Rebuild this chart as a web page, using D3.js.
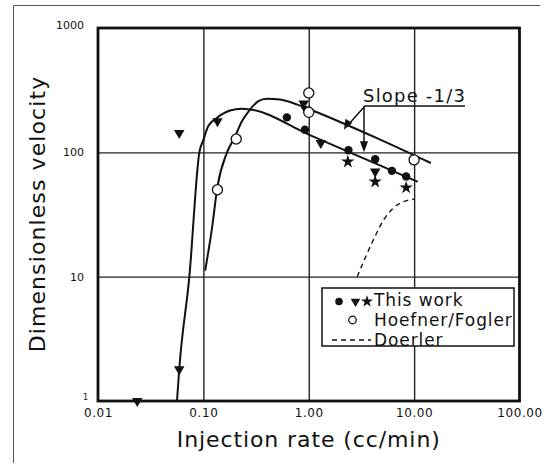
<!DOCTYPE html>
<html lang="en">
<head>
  <meta charset="utf-8">
  <title>Dimensionless velocity vs injection rate</title>
  <script src="https://d3js.org/d3.v7.min.js"></script>
  <style>
    body { margin: 0; background: #fff; }
    svg { display: block; }
    text { font-family: "DejaVu Sans", sans-serif; fill: #111; }
  </style>
</head>
<body>
<div id="chart"></div>
<script>
  // axis ticks
  const xTicks = [0.01, 0.1, 1, 10, 100];
  const xTickLabels = ["0.01", "0.10", "1.00", "10.00", "100.00"];
  const yTicks = [1, 10, 100, 1000];
  const yTickLabels = ["1", "10", "100", "1000"];

  // "This work" markers
  const dotX = [0.62, 0.92, 2.38, 4.27, 6.15, 8.4];
  const dotY = [191, 152, 104, 88, 71, 64];
  const triX = [0.0236, 0.059, 0.059, 0.136, 0.895, 0.935, 1.30, 4.27];
  const triY = [1, 1.8, 143, 178, 247, 222, 119, 70];
  const starX = [2.35, 4.27, 8.4];
  const starY = [84, 58, 52];

  // Hoefner/Fogler markers
  const openX = [0.136, 0.205, 1.0, 1.0, 10];
  const openY = [50, 128, 300, 210, 87];

  // fitted curves
  const curveAX = [0.0562, 0.059, 0.0736, 0.0916, 0.1, 0.111, 0.134, 0.179, 0.23, 0.28, 1.0, 10.8];
  const curveAY = [1, 1.8, 10, 100, 126, 162, 189, 217, 224, 221, 139, 58];
  const curveBX = [0.104, 0.12, 0.136, 0.167, 0.2, 0.232, 0.277, 0.333, 0.4, 0.535, 0.77, 1.03, 4.76, 14.4];
  const curveBY = [11.2, 23.7, 53, 99, 134.6, 178, 221, 258, 270, 266, 243, 221, 126.5, 82];
  const doerlerX = [2.88, 4.1, 5.12, 6.37, 8.5, 10];
  const doerlerY = [10, 19.7, 28.5, 35.7, 40.9, 42];

  const legendLabels = ["This work", "Hoefner/Fogler", "Doerler"];

  const width = 547, height = 467;
  const plotL = 98, plotR = 519.5, plotT = 28, plotB = 401;

  const svg = d3.select("#chart").append("svg")
    .attr("width", width)
    .attr("height", height);

  const x = d3.scaleLog().domain([0.01, 100]).range([plotL, plotR]);
  const y = d3.scaleLog().domain([1, 1000]).range([plotB, plotT]);

  // outer frame of the scanned figure
  svg.append("path")
    .attr("d", "M13.5,463 L13.5,5.5 L540,5.5")
    .attr("fill", "none")
    .attr("stroke", "#555")
    .attr("stroke-width", 1);

  // grid lines
  svg.append("g")
    .attr("transform", `translate(0,${plotB})`)
    .call(d3.axisBottom(x).tickValues(xTicks.slice(1, -1)).tickSize(-(plotB - plotT)).tickFormat(""))
    .call(g => g.select(".domain").remove())
    .call(g => g.selectAll("line").attr("stroke", "#222").attr("stroke-width", 1.4));

  svg.append("g")
    .attr("transform", `translate(${plotL},0)`)
    .call(d3.axisLeft(y).tickValues(yTicks.slice(1, -1)).tickSize(-(plotR - plotL)).tickFormat(""))
    .call(g => g.select(".domain").remove())
    .call(g => g.selectAll("line").attr("stroke", "#222").attr("stroke-width", 1.4));

  // tick labels
  svg.append("g")
    .attr("transform", `translate(0,${plotB})`)
    .call(d3.axisBottom(x).tickValues(xTicks).tickSize(0).tickPadding(7)
      .tickFormat((d, i) => xTickLabels[i]))
    .call(g => g.select(".domain").remove())
    .call(g => g.selectAll("text")
      .attr("font-family", "DejaVu Sans")
      .attr("font-size", 12)
      .style("letter-spacing", "0.6px")
      .attr("fill", "#111"));

  svg.append("g")
    .attr("transform", `translate(${plotL},0)`)
    .call(d3.axisLeft(y).tickValues(yTicks).tickSize(0).tickPadding(14)
      .tickFormat((d, i) => yTickLabels[i]))
    .call(g => g.select(".domain").remove())
    .call(g => g.selectAll("text")
      .attr("font-family", "DejaVu Sans")
      .attr("font-size", 11)
      .attr("fill", "#111"))
    .call(g => g.selectAll(".tick").filter(d => d === 1).select("text")
      .attr("font-size", 8).attr("x", -10).attr("dy", "-0.15em"))
    .call(g => g.selectAll(".tick").filter(d => d === 1000).select("text")
      .attr("dy", "0.05em"));

  // plot border
  svg.append("rect")
    .attr("x", plotL).attr("y", plotT)
    .attr("width", plotR - plotL).attr("height", plotB - plotT)
    .attr("fill", "none")
    .attr("stroke", "#111")
    .attr("stroke-width", 2.8);

  const line = d3.line()
    .x(d => x(d[0]))
    .y(d => y(d[1]))
    .curve(d3.curveMonotoneX);

  svg.append("path")
    .datum(d3.zip(curveAX, curveAY))
    .attr("d", line)
    .attr("fill", "none").attr("stroke", "#111").attr("stroke-width", 2);

  svg.append("path")
    .datum(d3.zip(curveBX, curveBY))
    .attr("d", line)
    .attr("fill", "none").attr("stroke", "#111").attr("stroke-width", 2);

  svg.append("path")
    .datum(d3.zip(doerlerX, doerlerY))
    .attr("d", line)
    .attr("fill", "none").attr("stroke", "#111").attr("stroke-width", 1.4)
    .attr("stroke-dasharray", "5,4");

  // markers
  const sym = (type, size) => d3.symbol().type(type).size(size)();

  svg.append("g").selectAll("path")
    .data(d3.zip(dotX, dotY))
    .join("path")
    .attr("transform", d => `translate(${x(d[0])},${y(d[1])})`)
    .attr("d", sym(d3.symbolCircle, 55))
    .attr("fill", "#111");

  svg.append("g").selectAll("path")
    .data(d3.zip(triX, triY))
    .join("path")
    .attr("transform", d => `translate(${x(d[0])},${y(d[1])}) rotate(180)`)
    .attr("d", sym(d3.symbolTriangle, 48))
    .attr("fill", "#111");

  svg.append("g").selectAll("path")
    .data(d3.zip(starX, starY))
    .join("path")
    .attr("transform", d => `translate(${x(d[0])},${y(d[1])})`)
    .attr("d", sym(d3.symbolStar, 55))
    .attr("fill", "#111");

  svg.append("g").selectAll("path")
    .data(d3.zip(openX, openY))
    .join("path")
    .attr("transform", d => `translate(${x(d[0])},${y(d[1])})`)
    .attr("d", sym(d3.symbolCircle, 80))
    .attr("fill", "#fff")
    .attr("stroke", "#111")
    .attr("stroke-width", 1.3);

  // slope annotation
  const ann = svg.append("g").attr("stroke", "#111").attr("stroke-width", 1.5).attr("fill", "none");
  ann.append("path").attr("d", "M465,106 L365,106 L348,125");
  ann.append("path").attr("d", "M364,106 L364,148");
  ann.append("path").attr("d", "M345,128 L346,120 L351,123 Z").attr("fill", "#111");
  ann.append("path").attr("d", "M361,142 L367,142 L364,150 Z").attr("fill", "#111");

  svg.append("text")
    .attr("x", 363).attr("y", 101.5)
    .attr("font-size", 18)
    .style("letter-spacing", "1.2px")
    .text("Slope -1/3");

  // legend
  const lg = svg.append("g");
  lg.append("rect")
    .attr("x", 322).attr("y", 288).attr("width", 192).attr("height", 58)
    .attr("fill", "#fff").attr("stroke", "#111").attr("stroke-width", 1.5);

  lg.append("path").attr("transform", "translate(339,301.5)")
    .attr("d", sym(d3.symbolCircle, 45)).attr("fill", "#111");
  lg.append("path").attr("transform", "translate(355.5,301.5) rotate(180)")
    .attr("d", sym(d3.symbolTriangle, 40)).attr("fill", "#111");
  lg.append("path").attr("transform", "translate(367,301.5)")
    .attr("d", sym(d3.symbolStar, 45)).attr("fill", "#111");
  lg.append("path").attr("transform", "translate(352.5,320)")
    .attr("d", sym(d3.symbolCircle, 45))
    .attr("fill", "#fff").attr("stroke", "#111").attr("stroke-width", 1.2);
  lg.append("line")
    .attr("x1", 332).attr("x2", 371).attr("y1", 340).attr("y2", 340)
    .attr("stroke", "#111").attr("stroke-width", 1.3).attr("stroke-dasharray", "5,4");

  lg.selectAll("text.lab")
    .data(legendLabels)
    .join("text")
    .attr("class", "lab")
    .attr("x", 374)
    .attr("y", (d, i) => 306 + i * 20)
    .attr("font-size", 17)
    .style("letter-spacing", "0.9px")
    .text(d => d);

  // axis titles
  svg.append("text")
    .attr("x", (plotL + plotR) / 2)
    .attr("y", 447)
    .attr("text-anchor", "middle")
    .attr("font-size", 22)
    .style("letter-spacing", "0.9px")
    .text("Injection rate (cc/min)");

  svg.append("text")
    .attr("transform", "translate(45,214) rotate(-90)")
    .attr("text-anchor", "middle")
    .attr("font-size", 22)
    .style("letter-spacing", "1.1px")
    .text("Dimensionless velocity");
</script>
</body>
</html>
